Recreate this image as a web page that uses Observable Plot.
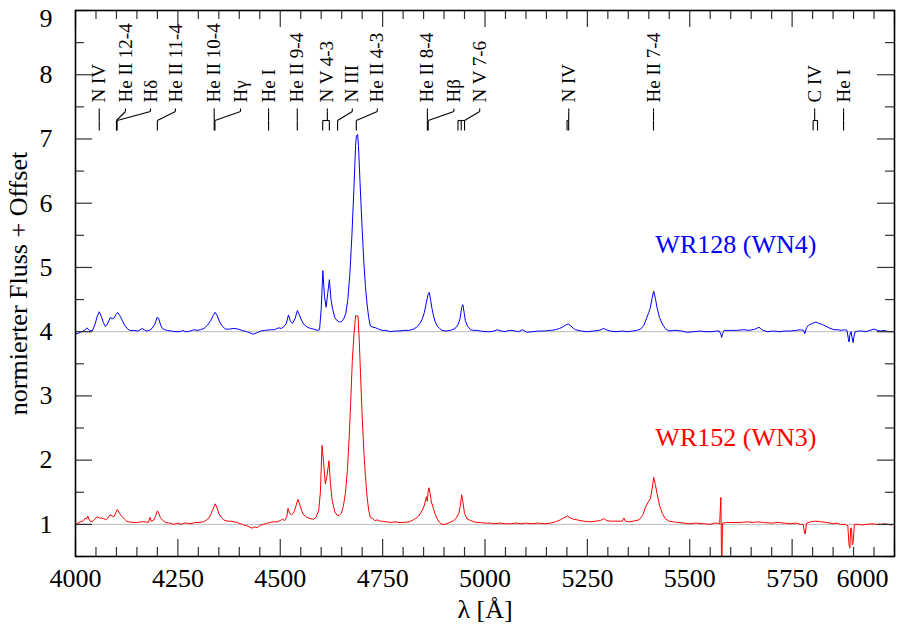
<!DOCTYPE html>
<html><head><meta charset="utf-8">
<script src="https://cdn.jsdelivr.net/npm/d3@7"></script>
<script src="https://cdn.jsdelivr.net/npm/@observablehq/plot@0.6"></script>
<style>body{margin:0;background:#fff}#chart svg{display:block}</style>
</head><body><div id="chart"></div>
<script>
// ---- data ----
const blueSpectrum = [
[4000,3.96],[4008,3.98],[4015,4.0],[4022,4.02],[4028,4.06],[4034,4.02],[4041,4.01],[4048,4.12],[4053,4.24],[4058,4.31],[4063,4.24],[4068,4.14],[4073,4.08],[4078,4.12],[4085,4.22],[4090,4.2],[4094,4.21],[4099,4.27],[4103,4.30],[4108,4.25],[4114,4.18],[4120,4.1],[4126,4.05],[4132,4.02],[4142,4.02],[4152,4.01],[4163,4.05],[4168,4.03],[4173,4.01],[4180,4.02],[4187,4.05],[4194,4.12],[4199,4.22],[4203,4.21],[4207,4.12],[4212,4.05],[4218,4.03],[4224,4.02],[4234,4.01],[4244,4.0],[4255,4.0],[4262,4.02],[4268,4.0],[4273,4.0],[4280,4.01],[4289,4.03],[4297,4.02],[4305,4.03],[4314,4.05],[4322,4.1],[4330,4.17],[4336,4.25],[4341,4.30],[4346,4.25],[4352,4.15],[4358,4.09],[4366,4.04],[4376,4.04],[4387,4.05],[4397,4.04],[4407,4.02],[4418,4.0],[4427,3.98],[4434,3.96],[4442,3.98],[4452,4.01],[4462,4.02],[4476,4.03],[4486,4.03],[4492,4.05],[4497,4.06],[4503,4.05],[4509,4.08],[4515,4.13],[4520,4.26],[4525,4.16],[4530,4.13],[4536,4.2],[4542,4.33],[4548,4.24],[4554,4.15],[4560,4.1],[4566,4.07],[4574,4.05],[4582,4.04],[4590,4.02],[4596,4.03],[4600,4.35],[4604,4.95],[4608,4.55],[4612,4.38],[4616,4.6],[4620,4.81],[4624,4.5],[4628,4.35],[4633,4.22],[4639,4.17],[4645,4.15],[4650,4.16],[4655,4.2],[4660,4.28],[4665,4.5],[4670,4.9],[4675,5.5],[4680,6.25],[4684,6.9],[4686,7.05],[4689,7.07],[4691,6.9],[4695,6.3],[4700,5.6],[4704,5.1],[4708,4.7],[4712,4.43],[4716,4.22],[4720,4.09],[4726,4.07],[4733,4.06],[4740,4.04],[4749,4.02],[4758,4.02],[4769,4.0],[4780,4.01],[4790,4.01],[4802,4.02],[4814,4.02],[4826,4.04],[4835,4.08],[4842,4.14],[4847,4.2],[4852,4.3],[4857,4.46],[4861,4.58],[4864,4.61],[4867,4.5],[4870,4.38],[4873,4.28],[4878,4.16],[4883,4.09],[4889,4.05],[4895,4.02],[4905,4.01],[4915,4.02],[4924,4.04],[4930,4.07],[4935,4.12],[4939,4.2],[4943,4.38],[4946,4.42],[4949,4.3],[4952,4.17],[4958,4.08],[4965,4.03],[4973,4.02],[4981,4.02],[4990,4.01],[5000,4.0],[5013,4.0],[5022,4.01],[5030,4.03],[5040,4.01],[5050,4.0],[5058,4.02],[5066,4.02],[5074,4.01],[5082,4.0],[5091,4.03],[5097,4.01],[5103,3.99],[5115,4.0],[5130,4.01],[5145,4.01],[5160,4.02],[5172,4.03],[5182,4.05],[5189,4.07],[5196,4.1],[5203,4.12],[5210,4.09],[5216,4.05],[5221,4.03],[5235,4.01],[5250,4.0],[5265,4.01],[5278,4.02],[5286,4.04],[5290,4.05],[5296,4.03],[5306,4.01],[5320,4.0],[5335,4.01],[5347,4.0],[5360,4.01],[5370,4.02],[5380,4.04],[5388,4.1],[5394,4.2],[5400,4.3],[5404,4.38],[5408,4.52],[5412,4.63],[5416,4.52],[5420,4.38],[5426,4.22],[5433,4.12],[5440,4.05],[5449,4.01],[5460,4.02],[5469,4.02],[5480,4.01],[5494,3.99],[5510,4.0],[5525,4.01],[5540,4.0],[5555,4.0],[5565,4.01],[5572,4.01],[5576,3.96],[5578,3.91],[5580,3.97],[5584,4.02],[5600,4.02],[5615,4.02],[5632,4.03],[5645,4.02],[5660,4.04],[5669,4.07],[5676,4.03],[5689,4.0],[5705,4.01],[5720,4.0],[5730,4.01],[5745,4.01],[5760,4.02],[5770,4.03],[5778,4.02],[5781,3.97],[5785,4.06],[5790,4.1],[5800,4.13],[5808,4.15],[5815,4.13],[5824,4.11],[5831,4.09],[5840,4.06],[5852,4.03],[5862,4.03],[5870,4.02],[5878,4.03],[5884,4.02],[5887,3.90],[5889,3.84],[5891,3.95],[5894,4.0],[5896,3.92],[5899,3.83],[5901,3.93],[5904,4.0],[5912,4.01],[5921,4.01],[5930,4.0],[5940,4.02],[5950,4.04],[5958,4.02],[5966,4.01],[5975,4.02],[5985,4.0],[5998,4.0],[6000,4.0]
];
const redSpectrum = [
[4000,1.0],[4006,1.02],[4012,1.04],[4018,1.05],[4024,1.10],[4027,1.08],[4030,1.13],[4033,1.08],[4037,1.04],[4042,1.05],[4047,1.08],[4053,1.12],[4058,1.10],[4063,1.10],[4069,1.09],[4074,1.07],[4079,1.1],[4085,1.15],[4090,1.13],[4094,1.12],[4098,1.18],[4102,1.23],[4106,1.19],[4110,1.15],[4114,1.12],[4120,1.08],[4125,1.05],[4130,1.04],[4140,1.03],[4151,1.03],[4160,1.04],[4166,1.04],[4171,1.04],[4178,1.03],[4182,1.11],[4185,1.05],[4190,1.06],[4195,1.12],[4200,1.21],[4203,1.18],[4207,1.11],[4212,1.07],[4220,1.03],[4230,1.02],[4240,1.0],[4250,1.02],[4258,1.0],[4265,1.02],[4273,1.02],[4282,1.01],[4292,1.03],[4302,1.03],[4313,1.04],[4320,1.07],[4326,1.1],[4330,1.15],[4336,1.24],[4341,1.32],[4345,1.27],[4350,1.17],[4356,1.11],[4362,1.07],[4370,1.05],[4379,1.05],[4387,1.04],[4395,1.03],[4403,1.01],[4411,0.99],[4418,0.98],[4425,0.96],[4431,0.94],[4437,0.96],[4444,0.95],[4452,0.99],[4460,1.0],[4468,1.02],[4476,1.03],[4484,1.04],[4492,1.04],[4500,1.06],[4505,1.08],[4511,1.06],[4516,1.12],[4519,1.25],[4523,1.17],[4527,1.15],[4533,1.18],[4538,1.28],[4543,1.39],[4548,1.3],[4553,1.2],[4557,1.15],[4565,1.11],[4573,1.09],[4582,1.08],[4588,1.12],[4594,1.22],[4598,1.5],[4602,2.23],[4606,1.95],[4610,1.63],[4614,1.75],[4619,1.99],[4623,1.6],[4627,1.37],[4633,1.2],[4639,1.14],[4644,1.14],[4649,1.17],[4654,1.28],[4659,1.48],[4664,1.85],[4668,2.31],[4672,2.9],[4676,3.55],[4680,3.95],[4684,4.25],[4690,4.24],[4693,3.85],[4696,3.35],[4700,2.7],[4704,2.15],[4708,1.75],[4712,1.43],[4716,1.22],[4720,1.11],[4726,1.09],[4731,1.06],[4737,1.07],[4744,1.05],[4750,1.05],[4756,1.04],[4761,1.04],[4770,1.03],[4780,1.04],[4790,1.03],[4802,1.03],[4815,1.04],[4825,1.07],[4830,1.09],[4838,1.13],[4843,1.18],[4847,1.22],[4852,1.3],[4855,1.38],[4857,1.43],[4859,1.36],[4861,1.5],[4863,1.57],[4866,1.48],[4869,1.35],[4873,1.27],[4878,1.16],[4883,1.09],[4889,1.03],[4895,1.0],[4902,1.0],[4910,1.02],[4917,1.04],[4924,1.06],[4930,1.1],[4936,1.17],[4940,1.3],[4943,1.46],[4946,1.35],[4950,1.17],[4957,1.08],[4965,1.06],[4973,1.04],[4980,1.03],[4989,1.03],[5000,1.02],[5013,1.02],[5025,1.01],[5037,1.02],[5050,1.01],[5062,1.01],[5075,1.02],[5087,1.01],[5100,1.02],[5115,1.01],[5130,1.02],[5145,1.01],[5160,1.02],[5172,1.04],[5184,1.07],[5192,1.1],[5201,1.13],[5208,1.1],[5216,1.08],[5225,1.07],[5240,1.05],[5258,1.04],[5270,1.05],[5282,1.06],[5290,1.09],[5297,1.06],[5306,1.05],[5320,1.05],[5335,1.05],[5339,1.1],[5343,1.05],[5351,1.04],[5362,1.05],[5376,1.07],[5385,1.14],[5392,1.27],[5398,1.34],[5404,1.4],[5408,1.55],[5412,1.73],[5416,1.62],[5420,1.48],[5426,1.3],[5433,1.17],[5440,1.09],[5449,1.05],[5460,1.04],[5470,1.03],[5486,1.02],[5500,1.01],[5515,1.02],[5534,1.01],[5550,1.0],[5560,1.02],[5567,1.02],[5573,1.01],[5576,1.42],[5578,0.2],[5580,1.02],[5590,1.03],[5608,1.03],[5625,1.03],[5640,1.04],[5655,1.03],[5665,1.04],[5680,1.03],[5700,1.02],[5715,1.03],[5730,1.02],[5745,1.01],[5760,1.02],[5770,1.0],[5777,1.0],[5780,0.88],[5782,0.85],[5785,1.02],[5795,1.04],[5807,1.05],[5820,1.04],[5835,1.03],[5850,1.01],[5860,1.02],[5868,1.0],[5880,1.0],[5886,0.98],[5889,0.68],[5891,0.63],[5893,0.94],[5895,0.94],[5897,0.68],[5899,0.72],[5902,1.0],[5912,1.0],[5922,0.99],[5933,1.0],[5945,1.01],[5955,1.0],[5966,1.0],[5978,1.01],[5990,0.99],[6000,1.0]
];
const continuumLevels = [1, 4];
const idLabels = ["N IV","He II 12-4","Hδ","He II 11-4","He II 10-4","Hγ","He I","He II 9-4","N V 4-3","N III","He II 4-3","He II 8-4","Hβ","N V 7-6","N IV","He II 7-4","C IV","He I"];
const idLabelWl = [4058,4122,4183,4244,4338.7,4403,4471.5,4541.6,4615,4676,4737,4859.3,4924,4987,5204.6,5411.5,5805,5875.6];
const idLineWl = [[4058],[4100],[4101.7],[4199.9],[4338.7],[4340.5],[4471.5],[4541.6],[4603.7,4619.9],[4640],[4685.7],[4859.3],[4861.3],[4934,4942,4950],[5200.4,5204.3],[5411.5],[5801.3,5812],[5875.6]];
const starNames = ["WR128 (WN4)", "WR152 (WN3)"];
const starColors = ["#0000ff", "#ff0000"];
const xTickLabels = [4000,4250,4500,4750,5000,5250,5500,5750,6000];
const yTickLabels = [1,2,3,4,5,6,7,8,9];

// ---- layout ----
const W = 897, H = 624, mL = 75, mR = 3, mT = 10, mB = 68;
const xDom = [4000, 6000], yDom = [0.5, 9];
const pxX = (W - mL - mR) / (xDom[1] - xDom[0]);   // px per Å
const pxY = (H - mT - mB) / (yDom[1] - yDom[0]);   // px per flux unit
const fromTop = px => yDom[1] - (px - mT) / pxY;   // pixel row -> flux
const xMajor = d3.range(4000, 6001, 250);
const xMinor = d3.range(4000, 6001, 50).filter(v => v % 250 !== 0);
const yMajor = d3.range(1, 9.01, 1);
const yMinor = d3.range(0.5, 9.01, 1);
const LMaj = 17, LMin = 9;

// line identification connectors
const yText = fromTop(102), yA = fromTop(108), yB = fromTop(111), yC = fromTop(120), yD = fromTop(130);
const segs = [];
idLabels.forEach((name, i) => {
  const lx = idLabelWl[i], lines = idLineWl[i];
  const lo = d3.min(lines), hi = d3.max(lines);
  const ax = Math.max(lo, Math.min(hi, lx));
  segs.push({x1: lx, y1: yA, x2: lx, y2: yB});
  segs.push({x1: lx, y1: yB, x2: ax, y2: yC});
  if (hi > lo) segs.push({x1: lo, y1: yC, x2: hi, y2: yC});
  lines.forEach(l => segs.push({x1: l, y1: yC, x2: l, y2: yD}));
});

const tickStyle = {stroke: "#333", strokeWidth: 1.2};
const tickMarks = (xs, ys, len) => [
  Plot.ruleX(xs, {x: d => d, y1: () => yDom[0], y2: () => yDom[0] + len / pxY, ...tickStyle}),
  Plot.ruleX(xs, {x: d => d, y1: () => yDom[1], y2: () => yDom[1] - len / pxY, ...tickStyle}),
  Plot.ruleY(ys, {y: d => d, x1: () => xDom[0], x2: () => xDom[0] + len / pxX, ...tickStyle}),
  Plot.ruleY(ys, {y: d => d, x1: () => xDom[1], x2: () => xDom[1] - len / pxX, ...tickStyle})
];

const serif = "'Liberation Serif', 'Times New Roman', serif";
const lastX = xTickLabels[xTickLabels.length - 1];
const lastY = yTickLabels[yTickLabels.length - 1];

const plot = Plot.plot({
  width: W, height: H,
  marginLeft: mL, marginRight: mR, marginTop: mT, marginBottom: mB,
  style: {fontFamily: serif, fontSize: "26px", color: "#000", background: "#fff"},
  x: {domain: xDom, axis: null},
  y: {domain: yDom, axis: null},
  marks: [
    Plot.ruleY(continuumLevels, {stroke: "#bbb", strokeWidth: 1}),
    Plot.line(blueSpectrum, {x: d => d[0], y: d => d[1], stroke: starColors[0], strokeWidth: 1, clip: true}),
    Plot.line(redSpectrum, {x: d => d[0], y: d => d[1], stroke: starColors[1], strokeWidth: 1, clip: true}),
    Plot.link(segs, {x1: "x1", y1: "y1", x2: "x2", y2: "y2", stroke: "#000", strokeWidth: 1.1}),
    Plot.text(idLabels, {x: (d, i) => idLabelWl[i], y: () => yText, text: d => d, rotate: -90, textAnchor: "start", fontSize: 19, fill: "#000"}),
    Plot.text([starNames[0]], {x: () => 5416, y: () => 5.357, text: d => d, textAnchor: "start", fill: starColors[0], fontSize: 26}),
    Plot.text([starNames[1]], {x: () => 5416, y: () => 2.353, text: d => d, textAnchor: "start", fill: starColors[1], fontSize: 26}),
    ...tickMarks(xMajor, yMajor, LMaj),
    ...tickMarks(xMinor, yMinor, LMin),
    Plot.text(xTickLabels.filter(v => v !== lastX), {x: d => d, y: () => yDom[0], text: d => String(d), textAnchor: "middle", lineAnchor: "top", dy: 12, fontSize: 26}),
    Plot.text([lastX], {x: d => d, y: () => yDom[0], text: d => String(d), textAnchor: "end", lineAnchor: "top", dy: 12, dx: -6, fontSize: 26}),
    Plot.text(yTickLabels.filter(v => v !== lastY), {x: () => xDom[0], y: d => d, text: d => String(d), textAnchor: "end", lineAnchor: "middle", dx: -23, fontSize: 26}),
    Plot.text([lastY], {x: () => xDom[0], y: d => d, text: d => String(d), textAnchor: "end", lineAnchor: "middle", dx: -23, dy: 8, fontSize: 26}),
    Plot.text(["normierter Fluss + Offset"], {frameAnchor: "left", rotate: -90, textAnchor: "middle", lineAnchor: "middle", dx: -57, fontSize: 26}),
    Plot.text(["λ [Å]"], {frameAnchor: "bottom", textAnchor: "middle", lineAnchor: "bottom", dy: 61, fontSize: 26}),
    Plot.frame({stroke: "#000", strokeWidth: 1.6})
  ]
});
document.getElementById("chart").appendChild(plot);
</script></body></html>
